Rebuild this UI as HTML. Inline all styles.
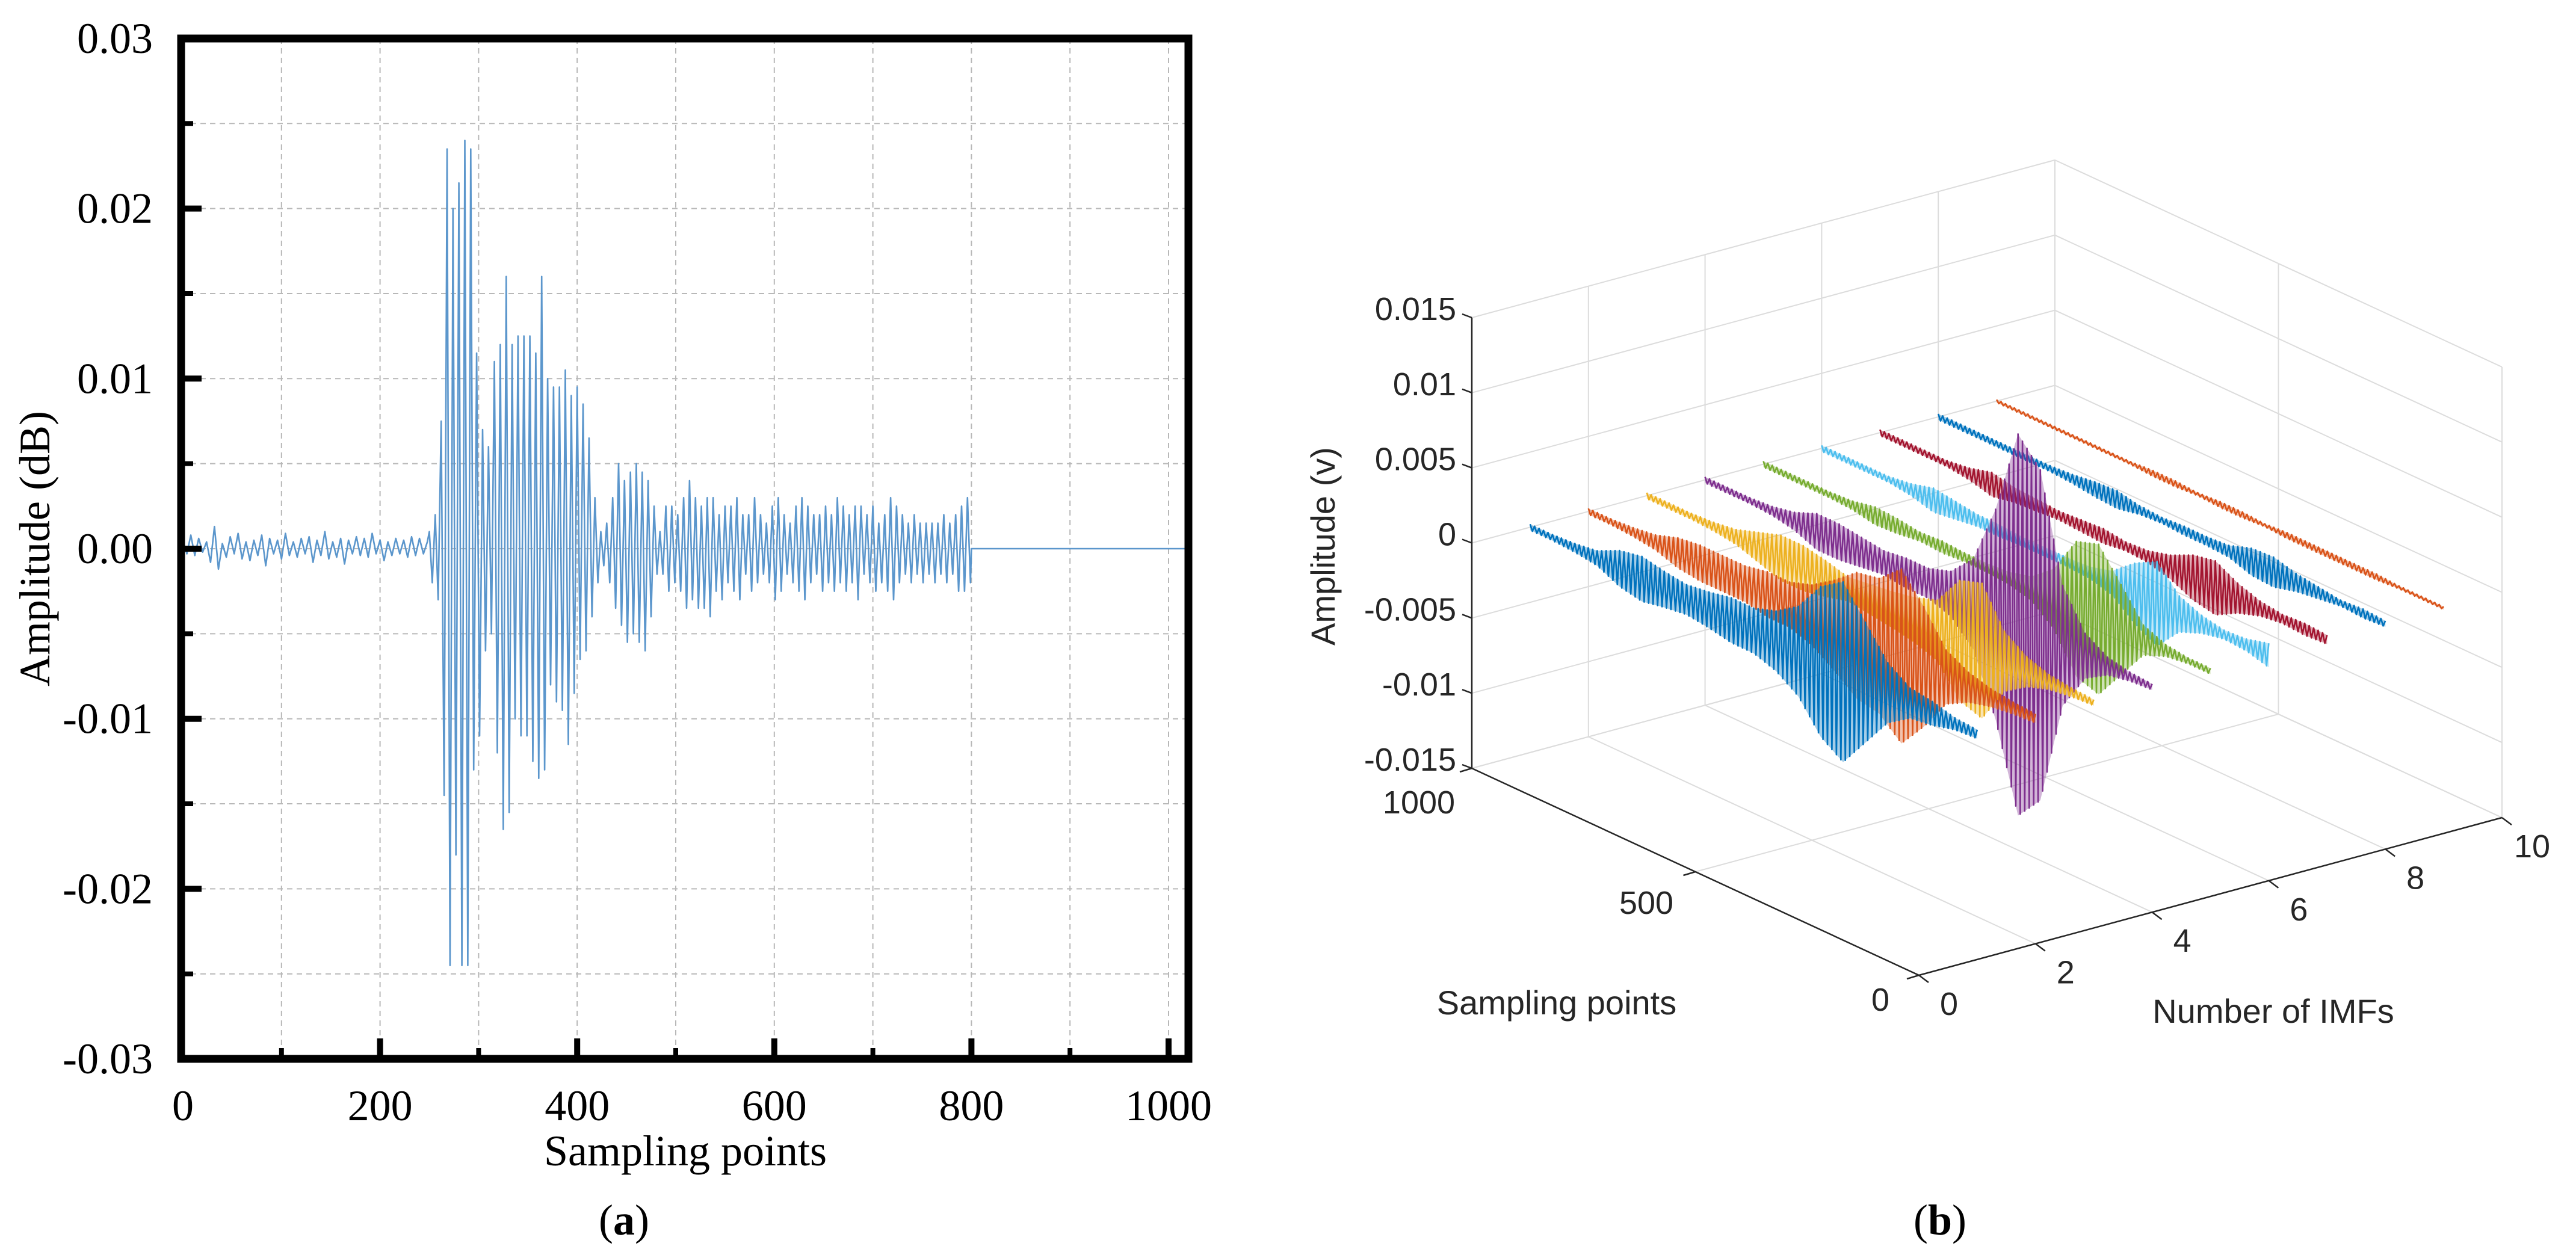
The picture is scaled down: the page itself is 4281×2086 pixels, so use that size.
<!DOCTYPE html>
<html><head><meta charset="utf-8"><style>
html,body{margin:0;padding:0;background:#fff;}
svg{display:block;}
</style></head><body>
<svg id="fig" xmlns="http://www.w3.org/2000/svg" width="4281" height="2086" viewBox="0 0 4281 2086">
<g id="chartA"></g>
<g id="chartB"></g>
<text x="1037" y="2052" font-family="Liberation Serif, serif" font-size="72" text-anchor="middle">(<tspan font-weight="bold">a</tspan>)</text>
<text x="3224" y="2052" font-family="Liberation Serif, serif" font-size="72" text-anchor="middle">(<tspan font-weight="bold">b</tspan>)</text>
</svg>
<script>
// ---------- Chart (a) data ----------
const noiseStart = 0, noiseStep = 4;
const noiseValues = [0.0005,-0.0003,0.0008,-0.0004,0.0006,-0.0002,0.0004,-0.0008,0.0013,-0.0012,0.0003,-0.0005,0.0007,-0.0003,0.0009,-0.0006,0.0004,-0.0007,0.0005,-0.0004,0.0008,-0.0010,0.0006,-0.0003,0.0005,-0.0006,0.0009,-0.0004,0.0004,-0.0005,0.0006,-0.0003,0.0007,-0.0008,0.0005,-0.0004,0.0010,-0.0006,0.0004,-0.0005,0.0006,-0.0009,0.0005,-0.0003,0.0007,-0.0004,0.0006,-0.0005,0.0009,-0.0003,0.0005,-0.0007,0.0004,-0.0004,0.0006,-0.0003,0.0005,-0.0005,0.0007,-0.0004,0.0006,-0.0003,0.0004];
const burstStart = 250, burstStep = 3;
const burstValues = [0.001,-0.002,0.002,-0.003,0.0075,-0.0145,0.0235,-0.0245,0.02,-0.018,0.0215,-0.0245,0.024,-0.0245,0.0235,-0.013,0.0115,-0.011,0.007,-0.006,0.006,-0.005,0.011,-0.012,0.012,-0.0165,0.016,-0.0155,0.012,-0.01,0.0125,-0.011,0.0125,-0.011,0.0125,-0.0125,0.0115,-0.0135,0.016,-0.013,0.01,-0.008,0.0095,-0.009,0.0095,-0.0095,0.0105,-0.0115,0.009,-0.0085,0.0095,-0.0065,0.0085,-0.006,0.0065,-0.004,0.003,-0.002,0.001,-0.001,0.0015,-0.002,0.003,-0.0035,0.005,-0.0045,0.004,-0.0055,0.0045,-0.005,0.005,-0.0055,0.0045,-0.006,0.004,-0.004,0.0025,-0.0015,0.001,-0.0015,0.0025,-0.0025,0.0025,-0.002,0.002,-0.0025,0.003,-0.0035,0.004,-0.003,0.003,-0.0035,0.0025,-0.0035,0.003,-0.004,0.003,-0.0025,0.002,-0.003,0.0025,-0.002,0.0025,-0.0025,0.003,-0.003,0.002,-0.0015,0.002,-0.0025,0.003,-0.002,0.002,-0.0015,0.0015,-0.002,0.0025,-0.003,0.003,-0.0025,0.002,-0.0015,0.0015,-0.002,0.0025,-0.0025,0.003,-0.003,0.0025,-0.002,0.002,-0.0015,0.002,-0.0025,0.0025,-0.002,0.002,-0.0025,0.003,-0.002,0.0025,-0.0025,0.002,-0.002,0.0025,-0.003,0.0025,-0.0015,0.002,-0.002,0.0025,-0.0025,0.0015,-0.002,0.002,-0.0025,0.003,-0.003,0.0025,-0.002,0.002,-0.0015,0.0015,-0.002,0.002,-0.0015,0.0015,-0.002,0.0015,-0.0015,0.0015,-0.002,0.0015,-0.0015,0.002,-0.002,0.0015,-0.0015,0.002,-0.0025,0.0025,-0.0025,0.003,-0.002];
const tailStart = 800, tailEnd = 1020;
const xTicksA = [0,200,400,600,800,1000];
const yTicksA = [0.03,0.02,0.01,0.00,-0.01,-0.02,-0.03];
const yTickLabelsA = ["0.03","0.02","0.01","0.00","-0.01","-0.02","-0.03"];

// ---------- Chart (b) data ----------
const sampleGrid = [0,50,100,150,200,250,300,350,400,450,500,550,600,650,700,750,800,850,900,950,1000];
const imfIndex = [1,2,3,4,5,6,7,8,9];
const imfColors = ["#0072BD","#D95319","#EDB120","#7E2F8E","#77AC30","#4DBEEE","#A2142F","#0072BD","#D95319"];
const env1 = [0.0003,0.0004,0.0008,0.001,0.002,0.004,0.006,0.005,0.003,0.002,0.0015,0.0015,0.0012,0.001,0.0012,0.0015,0.0012,0.0005,0.0003,0.0002,0.0002];
const env2 = [0.0003,0.0004,0.0006,0.001,0.0018,0.004,0.0058,0.0045,0.0042,0.003,0.002,0.0015,0.0015,0.0012,0.0012,0.0012,0.001,0.0005,0.0003,0.0002,0.0002];
const env3 = [0.0002,0.0003,0.0005,0.001,0.002,0.0045,0.004,0.002,0.0015,0.0012,0.001,0.0008,0.0012,0.0015,0.0015,0.001,0.0005,0.0003,0.0002,0.0002,0.0002];
const env4 = [0.0002,0.0003,0.0006,0.0015,0.004,0.011,0.0127,0.007,0.003,0.0015,0.001,0.001,0.0008,0.001,0.0012,0.0012,0.0006,0.0003,0.0002,0.0002,0.0002];
const env5 = [0.0002,0.0002,0.0004,0.001,0.003,0.005,0.0045,0.002,0.0008,0.0004,0.0003,0.0003,0.0004,0.0003,0.0005,0.0006,0.0003,0.0002,0.0002,0.0002,0.0002];
const env6 = [0.0008,0.0004,0.0003,0.0006,0.0012,0.0028,0.002,0.0008,0.0004,0.0003,0.0003,0.0003,0.0004,0.0004,0.0006,0.0008,0.0004,0.0002,0.0002,0.0002,0.0002];
const env7 = [0.0003,0.0004,0.0003,0.0005,0.001,0.0018,0.0015,0.0008,0.0004,0.0003,0.0005,0.0004,0.0003,0.0004,0.0005,0.0008,0.0004,0.0002,0.0002,0.0002,0.0002];
const env8 = [0.0002,0.0003,0.0002,0.0004,0.0006,0.001,0.0009,0.0004,0.0003,0.0003,0.0002,0.0003,0.0006,0.0005,0.0003,0.0002,0.0002,0.0002,0.0002,0.0002,0.0002];
const env9 = [0.0001,0.0001,0.0001,0.0002,0.0002,0.0002,0.0002,0.0002,0.0001,0.0002,0.0002,0.0001,0.0002,0.0002,0.0001,0.0001,0.0001,0.0001,0.0001,0.0001,0.0001];
const envelopes = [env1,env2,env3,env4,env5,env6,env7,env8,env9];
const zTicksB = [0.015,0.01,0.005,0,-0.005,-0.01,-0.015];
const zTickLabelsB = ["0.015","0.01","0.005","0","-0.005","-0.01","-0.015"];
const sTicksB = [0,500,1000];
const mTicksB = [0,2,4,6,8,10];

const NS = "http://www.w3.org/2000/svg";
function mk(parent, tag, attrs, text){
  const e = document.createElementNS(NS, tag);
  for (const k in attrs) e.setAttribute(k, attrs[k]);
  if (text !== undefined) e.textContent = text;
  parent.appendChild(e);
  return e;
}

// ---------- Draw chart (a) ----------
(function(){
  const g = document.getElementById('chartA');
  const X0 = 304, XS = 1.638, Y0 = 912, YS = 28270;
  const px = x => X0 + x*XS;
  const py = v => Y0 - v*YS;
  const left = 301, right = 1975, top = 64, bottom = 1760;
  for (let x = 100; x <= 1000; x += 100){
    const l = mk(g,'line',{x1:px(x),y1:top,x2:px(x),y2:bottom,stroke:'#b8b8b8','stroke-width':2,'stroke-dasharray':'9 7'});
    
    
  }
  for (let k = -5; k <= 5; k++){
    const v = k*0.005;
    const l = mk(g,'line',{x1:left,y1:py(v),x2:right,y2:py(v),stroke:'#b8b8b8','stroke-width':2,'stroke-dasharray':'9 7'});
    
    
  }
  const pts = [];
  noiseValues.forEach((v,i)=>pts.push(px(noiseStart+i*noiseStep).toFixed(1)+','+py(v).toFixed(1)));
  burstValues.forEach((v,i)=>pts.push(px(burstStart+i*burstStep).toFixed(1)+','+py(v).toFixed(1)));
  pts.push(px(tailStart).toFixed(1)+','+py(0).toFixed(1));
  pts.push(px(tailEnd).toFixed(1)+','+py(0).toFixed(1));
  const sig = mk(g,'polyline',{points:pts.join(' '),fill:'none',stroke:'#5b96cc','stroke-width':2.6,'stroke-linejoin':'round'});
  
  
  for (let x = 100; x <= 1000; x += 100){
    const major = x % 200 === 0;
    const t = mk(g,'line',{x1:px(x),y1:bottom,x2:px(x),y2:bottom-(major?34:18),stroke:'#000','stroke-width':major?10:8});
    
    
  }
  for (let k = -5; k <= 5; k++){
    const v = k*0.005;
    const major = k % 2 === 0;
    const t = mk(g,'line',{x1:left,y1:py(v),x2:left+(major?34:20),y2:py(v),stroke:'#000','stroke-width':major?10:8});
    
    
  }
  const frame = mk(g,'rect',{x:left,y:top,width:right-left,height:bottom-top,fill:'none',stroke:'#000','stroke-width':13});
  
  
  xTicksA.forEach(x=>{
    const t = mk(g,'text',{x:px(x),y:1862,'font-family':'Liberation Serif, serif','font-size':72,'text-anchor':'middle'},String(x));
    
    
  });
  yTicksA.forEach((v,i)=>{
    const t = mk(g,'text',{x:254,y:py(v)+24,'font-family':'Liberation Serif, serif','font-size':72,'text-anchor':'end'},yTickLabelsA[i]);
    
    
  });
  const xt = mk(g,'text',{x:1139,y:1937,'font-family':'Liberation Serif, serif','font-size':72,'text-anchor':'middle'},'Sampling points');
  
  
  const yt = mk(g,'text',{x:0,y:0,transform:'translate(82,912) rotate(-90)','font-family':'Liberation Serif, serif','font-size':72,'text-anchor':'middle'},'Amplitude (dB)');
  
  
})();

// ---------- Draw chart (b) ----------
(function(){
  const g = document.getElementById('chartB');
  const O = [2446,1277];
  const P = (s,m,z) => [
    O[0] + (1000-s)/1000*743 + m/10*969,
    O[1] + (1000-s)/1000*344 - m/10*262 - (z+0.015)/0.03*749
  ];
  const line = (a,b,attrs,name) => {
    const l = mk(g,'line',Object.assign({x1:a[0],y1:a[1],x2:b[0],y2:b[1]},attrs));
    
    
    return l;
  };
  const gridA = {stroke:'#dcdcdc','stroke-width':2};
  mTicksB.forEach(m=>line(P(1000,m,-0.015),P(1000,m,0.015),gridA,'grid-wall-left-vertical'));
  zTicksB.forEach(z=>line(P(1000,0,z),P(1000,10,z),gridA,'grid-wall-left-horizontal'));
  sTicksB.forEach(s=>line(P(s,10,-0.015),P(s,10,0.015),gridA,'grid-wall-right-vertical'));
  zTicksB.forEach(z=>line(P(0,10,z),P(1000,10,z),gridA,'grid-wall-right-horizontal'));
  mTicksB.forEach(m=>line(P(0,m,-0.015),P(1000,m,-0.015),gridA,'grid-floor-imf'));
  sTicksB.forEach(s=>line(P(s,0,-0.015),P(s,10,-0.015),gridA,'grid-floor-sample'));
  const envAt = (env,s) => {
    const i = Math.min(sampleGrid.length-2, Math.floor(s/50));
    const t = (s - sampleGrid[i])/(sampleGrid[i+1]-sampleGrid[i]);
    return env[i]*(1-t) + env[i+1]*t;
  };
  for (let k = imfIndex.length-1; k >= 0; k--){
    const m = imfIndex[k], env = envelopes[k], col = imfColors[k];
    const up = [], dn = [];
    sampleGrid.forEach((s,i)=>{
      const a = P(s,m,env[i]), b = P(s,m,-env[i]);
      up.push(a[0].toFixed(1)+','+a[1].toFixed(1));
      dn.unshift(b[0].toFixed(1)+','+b[1].toFixed(1));
    });
    const poly = mk(g,'polygon',{points:up.concat(dn).join(' '),fill:col,'fill-opacity':0.35,stroke:'none'});
    
    
    const zz = [];
    let sign = 1;
    for (let s = 1000; s >= 0; s -= 5){
      const p = P(s,m,sign*envAt(env,s));
      zz.push(p[0].toFixed(1)+','+p[1].toFixed(1));
      sign = -sign;
    }
    const pl = mk(g,'polyline',{points:zz.join(' '),fill:'none',stroke:col,'stroke-width':2.6,'stroke-linejoin':'round'});
    
    
  }
  const axA = {stroke:'#262626','stroke-width':2.5};
  line(P(1000,0,-0.015),P(1000,0,0.015),axA,'z-axis');
  line(P(1000,0,-0.015),P(0,0,-0.015),axA,'sampling-axis');
  line(P(0,0,-0.015),P(0,10,-0.015),axA,'imf-axis');
  const fS = 'Liberation Sans, sans-serif';
  zTicksB.forEach((z,i)=>{
    const p = P(1000,0,z);
    line(p,[p[0]-16,p[1]-6],axA,'z-tick');
    const t = mk(g,'text',{x:p[0]-26,y:p[1]+4,'font-family':fS,'font-size':54,'text-anchor':'end',fill:'#262626'},zTickLabelsB[i]);
    
    
  });
  const sLabelPos = {1000:[2358,1352],500:[2736,1519],0:[3125,1680]};
  sTicksB.forEach(s=>{
    const p = P(s,0,-0.015);
    line(p,[p[0]-20,p[1]+6],axA,'sampling-tick');
    const t = mk(g,'text',{x:sLabelPos[s][0],y:sLabelPos[s][1],'font-family':fS,'font-size':54,'text-anchor':'middle',fill:'#262626'},String(s));
    
    
  });
  mTicksB.forEach(m=>{
    const p = P(0,m,-0.015);
    line(p,[p[0]+16,p[1]+12],axA,'imf-tick');
    const t = mk(g,'text',{x:p[0]+50,y:p[1]+66,'font-family':fS,'font-size':54,'text-anchor':'middle',fill:'#262626'},String(m));
    
    
  });
  const t1 = mk(g,'text',{x:2587,y:1686,'font-family':fS,'font-size':56,'text-anchor':'middle',fill:'#262626'},'Sampling points');
  
  
  const t2 = mk(g,'text',{x:3778,y:1700,'font-family':fS,'font-size':56,'text-anchor':'middle',fill:'#262626'},'Number of IMFs');
  
  
  const t3 = mk(g,'text',{x:0,y:0,transform:'translate(2218,908) rotate(-90)','font-family':fS,'font-size':56,'text-anchor':'middle',fill:'#262626'},'Amplitude (v)');
  
  
})();
</script>
</body></html>
